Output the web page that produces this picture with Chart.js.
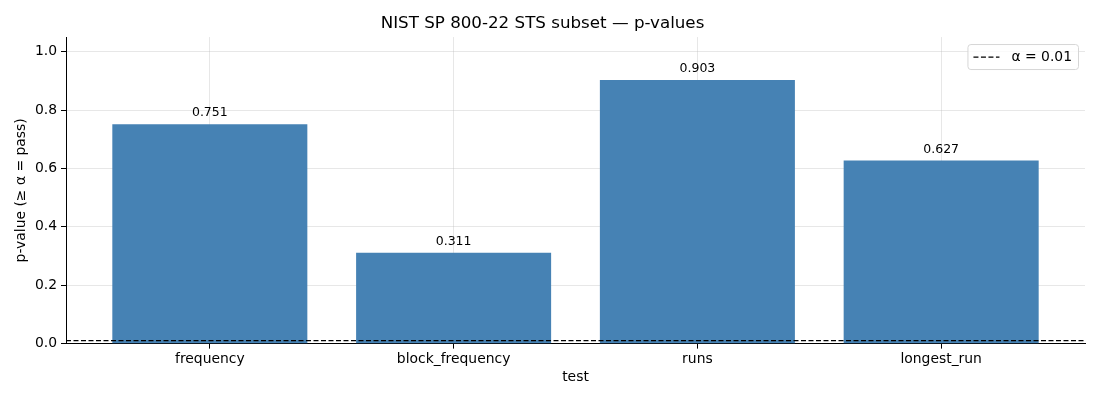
<!DOCTYPE html>
<html>
<head>
<meta charset="utf-8">
<script src="https://cdn.jsdelivr.net/npm/chart.js@4.4.1/dist/chart.umd.min.js"></script>
<style>
  html, body { margin: 0; padding: 0; background: #fff; }
  #wrap { width: 1100px; height: 400px; }
</style>
</head>
<body>
<div id="wrap"><canvas id="stsChart"></canvas></div>
<script>
/* ── DATA ───────────────────────────────────── */
const tests   = ['frequency', 'block_frequency', 'runs', 'longest_run'];
const pValues = [0.751, 0.311, 0.903, 0.627];
const alpha   = 0.01;
const yTicks  = [0, 0.2, 0.4, 0.6, 0.8, 1.0];
const xLimits = [-0.59, 3.59];
const yLimits = [0, 1.05];

const FONT = "'DejaVu Sans', sans-serif";
const gridColor = 'rgba(176,176,176,0.3)';

/* ── PLUGINS ────────────────────────────────── */
const valueLabels = {
    id: 'valueLabels',
    afterDraw(chart) {
        const meta = chart.getDatasetMeta(1);
        const ctx = chart.ctx;
        ctx.save();
        ctx.font = `12.5px ${FONT}`;
        ctx.fillStyle = '#000';
        ctx.textAlign = 'center';
        ctx.textBaseline = 'bottom';
        meta.data.forEach((bar, i) => {
            ctx.fillText(pValues[i].toFixed(3), bar.x, bar.y - 5);
        });
        ctx.restore();
    }
};

const boxedLegend = {
    id: 'boxedLegend',
    afterDraw(chart) {
        const ds = chart.data.datasets[0];
        const area = chart.chartArea;
        const ctx = chart.ctx;
        ctx.save();
        ctx.font = `13.9px ${FONT}`;
        const textW = ctx.measureText(ds.label).width;
        const w = 6 + 26 + 12 + textW + 6;
        const h = 25;
        const x = area.right - 7 - w;
        const y = area.top + 7;
        ctx.beginPath();
        ctx.roundRect(x + 0.5, y + 0.5, w, h, 3);
        ctx.fillStyle = 'rgba(255,255,255,0.8)';
        ctx.fill();
        ctx.strokeStyle = '#d6d6d6';
        ctx.lineWidth = 1;
        ctx.stroke();

        ctx.beginPath();
        ctx.setLineDash(ds.borderDash);
        ctx.strokeStyle = ds.borderColor;
        ctx.lineWidth = 1.2;
        ctx.moveTo(x + 6, y + h / 2 + 0.5);
        ctx.lineTo(x + 32, y + h / 2 + 0.5);
        ctx.stroke();
        ctx.setLineDash([]);

        ctx.fillStyle = '#000';
        ctx.textBaseline = 'middle';
        ctx.fillText(ds.label, x + 44, y + h / 2 + 1);
        ctx.restore();
    }
};

/* ── CHART ──────────────────────────────────── */
new Chart(document.getElementById('stsChart'), {
    data: {
        datasets: [
            {
                type: 'line',
                label: 'α = ' + alpha,
                data: [{ x: xLimits[0], y: alpha }, { x: xLimits[1], y: alpha }],
                borderColor: '#000',
                borderWidth: 1.2,
                borderDash: [5, 2.5],
                pointRadius: 0,
                fill: false
            },
            {
                type: 'bar',
                label: 'p-value',
                data: tests.map((t, i) => ({ x: i, y: pValues[i] })),
                backgroundColor: '#4682b4',
                borderWidth: 0,
                barPercentage: 0.8,
                categoryPercentage: 1.0
            }
        ]
    },
    options: {
        responsive: true,
        maintainAspectRatio: false,
        animation: false,
        layout: { padding: { left: 0, right: 15, top: 0, bottom: 14 } },
        plugins: {
            legend: { display: false },
            tooltip: { enabled: false },
            title: {
                display: true,
                text: 'NIST SP 800-22 STS subset — p-values',
                color: '#000',
                font: { family: FONT, size: 16.7, weight: 'normal' },
                padding: { top: 14, bottom: 3 }
            }
        },
        scales: {
            x: {
                type: 'linear',
                min: xLimits[0],
                max: xLimits[1],
                offset: false,
                z: 1,
                afterBuildTicks: axis => { axis.ticks = tests.map((t, i) => ({ value: i })); },
                ticks: {
                    color: '#000',
                    font: { family: FONT, size: 13.9 },
                    padding: 2,
                    maxRotation: 0,
                    autoSkip: false,
                    callback: v => tests[v] ?? ''
                },
                grid: { offset: false, color: gridColor, tickColor: '#000', tickLength: 5, lineWidth: 1 },
                border: { color: '#000', width: 1 },
                title: {
                    display: true,
                    text: 'test',
                    color: '#000',
                    font: { family: FONT, size: 13.9 },
                    padding: { top: 0, bottom: 0 }
                }
            },
            y: {
                min: yLimits[0],
                max: yLimits[1],
                z: 1,
                afterBuildTicks: axis => { axis.ticks = yTicks.map(v => ({ value: v })); },
                afterFit: axis => { axis.width = 66; },
                ticks: {
                    color: '#000',
                    font: { family: FONT, size: 13.9 },
                    padding: 4,
                    callback: v => v.toFixed(1)
                },
                grid: { color: gridColor, tickColor: '#000', tickLength: 5, lineWidth: 1 },
                border: { color: '#000', width: 1 },
                title: {
                    display: true,
                    text: 'p-value (≥ α = pass)',
                    color: '#000',
                    font: { family: FONT, size: 13.9 },
                    padding: { top: 13, bottom: 0 }
                }
            }
        }
    },
    plugins: [valueLabels, boxedLegend]
});
</script>
</body>
</html>
